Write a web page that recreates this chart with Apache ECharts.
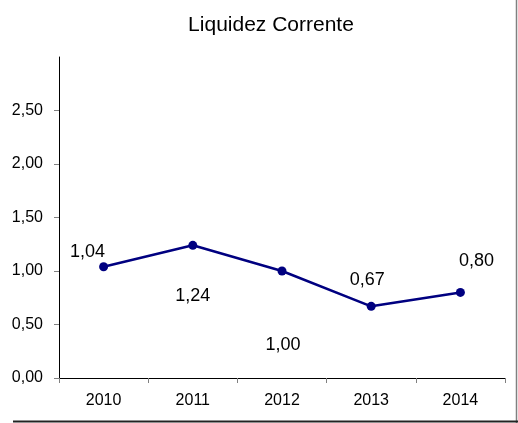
<!DOCTYPE html>
<html>
<head>
<meta charset="utf-8">
<script src="https://cdn.jsdelivr.net/npm/echarts@6/dist/echarts.min.js"></script>
<style>
  html, body { margin: 0; padding: 0; background: #fff; }
  #chart { width: 518px; height: 423px; }
</style>
</head>
<body>
<div id="chart"></div>
<script>
  // dados do gráfico
  var anos = ['2010', '2011', '2012', '2013', '2014'];
  var liquidez = [1.04, 1.24, 1.00, 0.67, 0.80];
  var yTicks = [0, 0.5, 1, 1.5, 2, 2.5];

  // onde fica cada rótulo em relação ao ponto (igual à figura)
  var offsets = [[-16, -15], [0, 51], [1, 74], [-4, -26], [16, -31]];

  function fmt(v) {
    return v.toFixed(2).replace('.', ',');
  }

  var chart = echarts.init(document.getElementById('chart'));
  chart.setOption({
    animation: false,
    textStyle: { fontFamily: 'Liberation Sans, Arial, sans-serif' },
    title: {
      text: 'Liquidez Corrente',
      left: 266,
      textAlign: 'center',
      top: 10,
      textStyle: { fontSize: 21, fontWeight: 'normal', color: '#000' }
    },
    grid: { left: 59, right: 13, top: 57, bottom: 45, containLabel: false },
    xAxis: {
      type: 'category',
      data: anos,
      boundaryGap: true,
      axisLine: { lineStyle: { color: '#000', width: 1 } },
      axisTick: { show: true, length: 5, lineStyle: { color: '#808080' } },
      axisLabel: { color: '#000', fontSize: 16, margin: 15 },
      splitLine: { show: false }
    },
    yAxis: {
      type: 'value',
      min: 0,
      max: 3,
      interval: 0.5,
      axisLine: { show: true, lineStyle: { color: '#000', width: 1 } },
      axisTick: { show: true, length: 5, customValues: yTicks, lineStyle: { color: '#808080' } },
      axisLabel: { color: '#000', fontSize: 16, margin: 16, customValues: yTicks, formatter: fmt },
      splitLine: { show: false }
    },
    series: [{
      type: 'line',
      data: liquidez.map(function (v, i) {
        return {
          value: v,
          label: { position: 'inside', offset: offsets[i] }
        };
      }),
      symbol: 'circle',
      symbolSize: 9,
      itemStyle: { color: '#000080' },
      lineStyle: { color: '#000080', width: 2.5 },
      label: {
        show: true,
        color: '#000',
        fontSize: 18,
        formatter: function (p) { return fmt(p.value); }
      }
    }],
    graphic: [
      { type: 'line', shape: { x1: 516.5, y1: 0, x2: 516.5, y2: 423 }, style: { stroke: '#808080', lineWidth: 1.5 } },
      { type: 'line', shape: { x1: 13, y1: 421.5, x2: 518, y2: 421.5 }, style: { stroke: '#222', lineWidth: 2 } }
    ]
  });
</script>
</body>
</html>
